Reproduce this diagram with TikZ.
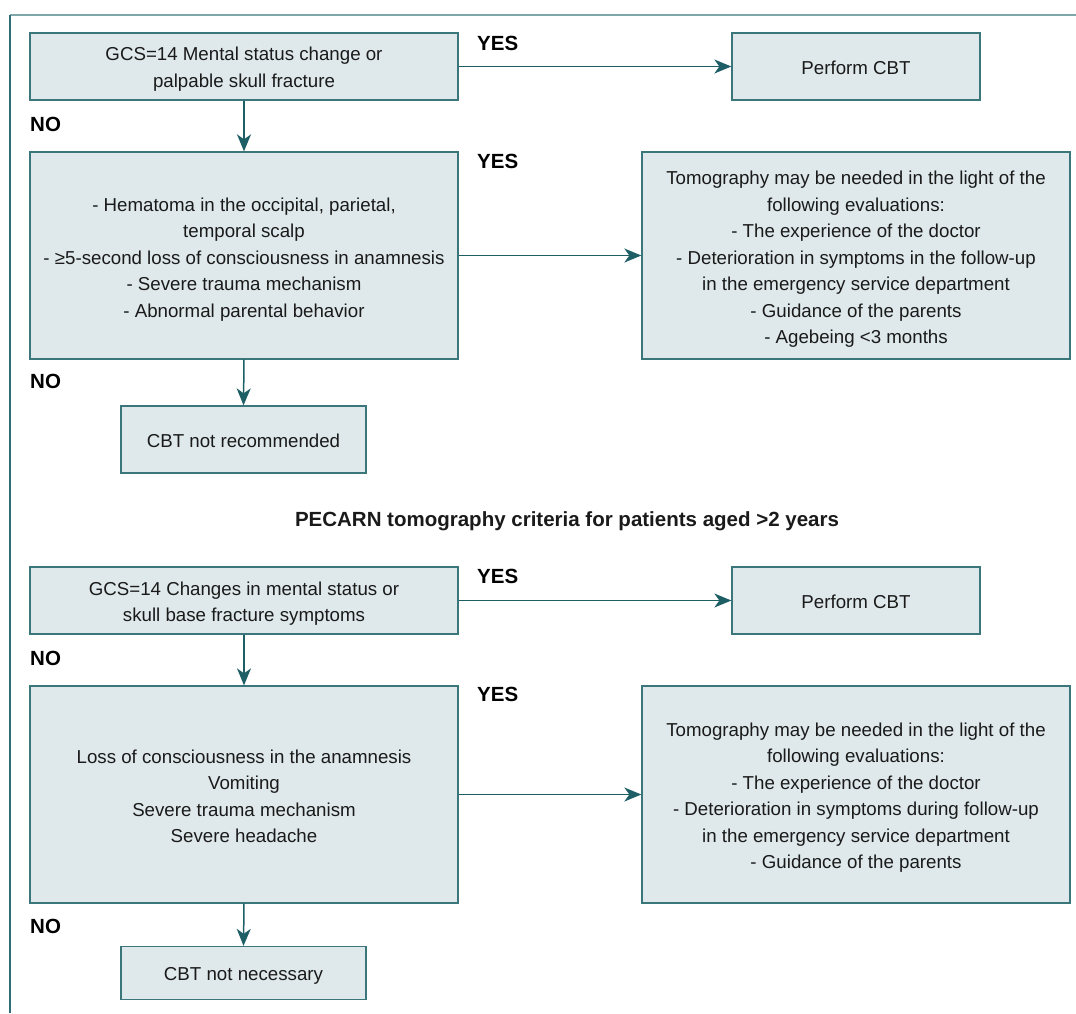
\documentclass[tikz,border=0pt]{standalone}
\usepackage{fontspec}
\setmainfont{Liberation Sans}
\usetikzlibrary{arrows.meta}
\definecolor{boxfill}{HTML}{DFE9EB}
\definecolor{boxline}{HTML}{3B767B}
\definecolor{arrowc}{HTML}{1E5E65}
\definecolor{frametop}{HTML}{7FA6A8}
\definecolor{frameleft}{HTML}{2F6E74}
\definecolor{txt}{HTML}{1A1A1A}
\tikzset{
  box/.style={draw=boxline, fill=boxfill, line width=1.3pt, inner sep=0pt},
  btxt/.style={inner sep=0pt, align=center, text=txt, font=\fontsize{18.7}{26.5}\selectfont},
  lbl/.style={anchor=west, inner sep=0pt, font=\fontsize{20.5}{24}\selectfont\bfseries, text=black},
  arr/.style={draw=arrowc, line width=1.5pt, -{Stealth[length=17pt,width=14pt,inset=5pt]}}
}
\begin{document}
\begin{tikzpicture}[x=1pt,y=-1pt]
\useasboundingbox (0,0) rectangle (1076,1013);
\draw[frametop, line width=2pt] (10,15) -- (1076,15);
\draw[frameleft, line width=1.5pt] (10,15) -- (10,1013);

% top section
\node[box, minimum width=428pt, minimum height=67pt] (b1) at (244,66.5) {};
\node[btxt] (b1t) at ([yshift=-2.5pt]b1.center) {GCS=14 Mental status change or\\palpable skull fracture};
\node[box, minimum width=248pt, minimum height=67pt] (p1) at (856,66.5) {};
\node[btxt] (p1t) at ([yshift=-1pt]p1.center) {Perform CBT};
\node[box, minimum width=428pt, minimum height=207pt] (b2) at (244,255.5) {};
\node[btxt] (b2t) at ([yshift=-4pt]b2.center) {- Hematoma in the occipital, parietal,\\temporal scalp\\- ≥5-second loss of consciousness in anamnesis\\- Severe trauma mechanism\\- Abnormal parental behavior};
\node[box, minimum width=428pt, minimum height=207pt] (t1) at (856,255.5) {};
\node[btxt] (t1t) at ([yshift=-4pt]t1.center) {Tomography may be needed in the light of the\\following evaluations:\\- The experience of the doctor\\- Deterioration in symptoms in the follow-up\\in the emergency service department\\- Guidance of the parents\\- Agebeing <3 months};
\node[box, minimum width=245pt, minimum height=67pt] (n1) at (243.5,439.5) {};
\node[btxt] (n1t) at ([yshift=-1pt]n1.center) {CBT not recommended};

\draw[arr] (b1.east) -- (p1.west);
\draw[arr] (b1.south) -- (b2.north);
\draw[arr] (b2.east) -- (t1.west);
\draw[arr] (b2.south) -- (n1.north);

\node[lbl] (y1) at (477,43) {YES};
\node[lbl] (no1) at (30,124) {NO};
\node[lbl] (y2) at (477,161) {YES};
\node[lbl] (no2) at (30,381) {NO};

\node[inner sep=0pt, font=\fontsize{20.5}{24}\selectfont\bfseries, text=txt] (title) at (567,521) {PECARN tomography criteria for patients aged >2 years};

% bottom section
\node[box, minimum width=428pt, minimum height=67pt] (b3) at (244,600.5) {};
\node[btxt] (b3t) at ([yshift=-3pt]b3.center) {GCS=14 Changes in mental status or\\skull base fracture symptoms};
\node[box, minimum width=248pt, minimum height=67pt] (p2) at (856,600.5) {};
\node[btxt] (p2t) at ([yshift=-1pt]p2.center) {Perform CBT};
\node[box, minimum width=428pt, minimum height=217pt] (b4) at (244,794.5) {};
\node[btxt] (b4t) at ([yshift=-2pt]b4.center) {Loss of consciousness in the anamnesis\\Vomiting\\Severe trauma mechanism\\Severe headache};
\node[box, minimum width=428pt, minimum height=217pt] (t2) at (856,794.5) {};
\node[btxt] (t2t) at ([yshift=-3pt]t2.center) {Tomography may be needed in the light of the\\following evaluations:\\- The experience of the doctor\\- Deterioration in symptoms during follow-up\\in the emergency service department\\- Guidance of the parents};
\node[box, minimum width=245pt, minimum height=53pt] (n2) at (243.5,973) {};
\node[btxt] (n2t) at ([yshift=-2.5pt]n2.center) {CBT not necessary};

\draw[arr] (b3.east) -- (p2.west);
\draw[arr] (b3.south) -- (b4.north);
\draw[arr] (b4.east) -- (t2.west);
\draw[arr] (b4.south) -- (n2.north);

\node[lbl] (y3) at (477,576) {YES};
\node[lbl] (no3) at (30,658) {NO};
\node[lbl] (y4) at (477,694) {YES};
\node[lbl] (no4) at (30,926) {NO};
\end{tikzpicture}
\end{document}
